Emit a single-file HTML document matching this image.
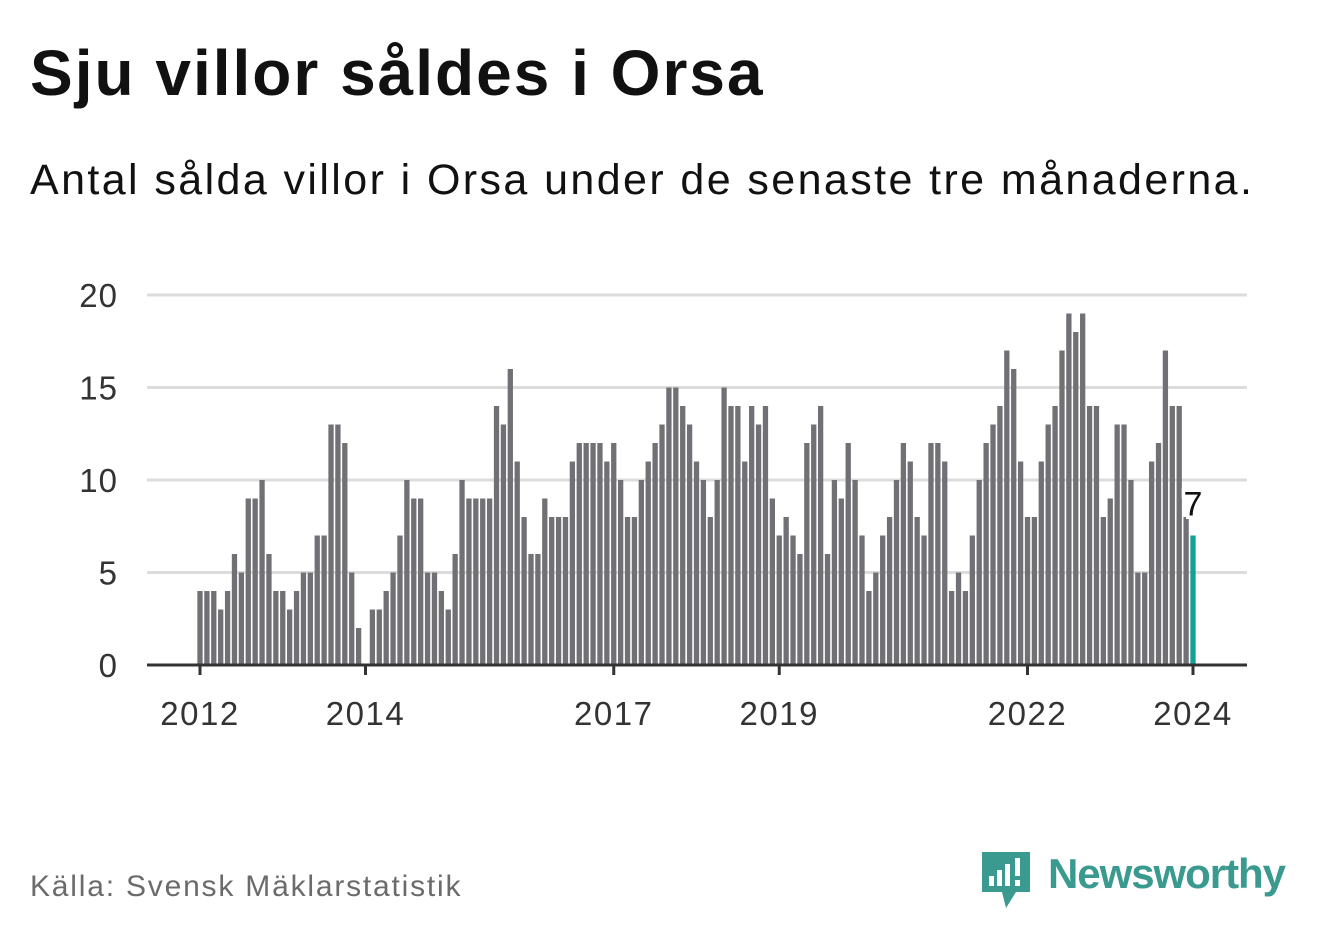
<!DOCTYPE html>
<html><head><meta charset="utf-8"><style>
body{margin:0;width:1322px;height:939px;background:#fff;font-family:"Liberation Sans",sans-serif;overflow:hidden;position:relative}
#title{position:absolute;left:30px;top:36px;font-size:64px;font-weight:bold;color:#111;margin:0;letter-spacing:2px}
#sub{position:absolute;left:30px;top:156px;font-size:43px;color:#111;letter-spacing:2.4px}
#src{position:absolute;left:30px;top:870px;font-size:30px;color:#6b6b6b;letter-spacing:1.8px}
</style></head><body>
<h1 id="title">Sju villor såldes i Orsa</h1>
<div id="sub">Antal sålda villor i Orsa under de senaste tre månaderna.</div>
<svg id="chart" width="1322" height="939" style="position:absolute;left:0;top:0"></svg>
<div id="src">Källa: Svensk Mäklarstatistik</div>
<svg style="position:absolute;left:980px;top:850px" width="320" height="62">
<path d="M2 2h48v40h-14l-10 16-4-16H2z" fill="#3a9a8f"/>
<rect x="9" y="26" width="5" height="10" fill="#fff"/><rect x="17" y="20" width="5" height="16" fill="#fff"/><rect x="25" y="14" width="5" height="22" fill="#fff"/><rect x="35" y="8" width="5" height="18" fill="#fff"/><rect x="35" y="30" width="5" height="6" fill="#fff"/>
<text x="68" y="38" font-size="42" font-weight="bold" fill="#3a9a8f" font-family="Liberation Sans, sans-serif" textLength="238">Newsworthy</text>
</svg>
<script>
const values=[4,4,4,3,4,6,5,9,9,10,6,4,
4,3,4,5,5,7,7,13,13,12,5,2,
0,3,3,4,5,7,10,9,9,5,5,4,
3,6,10,9,9,9,9,14,13,16,11,8,
6,6,9,8,8,8,11,12,12,12,12,11,
12,10,8,8,10,11,12,13,15,15,14,13,
11,10,8,10,15,14,14,11,14,13,14,9,
7,8,7,6,12,13,14,6,10,9,12,10,
7,4,5,7,8,10,12,11,8,7,12,12,
11,4,5,4,7,10,12,13,14,17,16,11,
8,8,11,13,14,17,19,18,19,14,14,8,
9,13,13,10,5,5,11,12,17,14,14,8,
7];
const yTicks=[0,5,10,15,20];
const xYears=[2012,2014,2017,2019,2022,2024];
const NS="http://www.w3.org/2000/svg";
const svg=document.getElementById('chart');
const x0=200,x1=1193,y0=665,yTop=295;
const n=values.length;
const xs=i=>x0+(x1-x0)*i/(n-1);
const ys=v=>y0-(y0-yTop)*v/20;
function mk(t,a){const e=document.createElementNS(NS,t);for(const k in a)e.setAttribute(k,a[k]);svg.appendChild(e);return e;}
yTicks.forEach(t=>{
 if(t>0){const g=mk('line',{x1:147,x2:1247,y1:ys(t),y2:ys(t),stroke:'#dcdcdc','stroke-width':3});
 
 }
 const l=mk('text',{x:118,y:ys(t)+12,'text-anchor':'end','font-size':33,fill:'#333','letter-spacing':1});
 l.textContent=t;
 
 
});
const bw=(x1-x0)/(n-1)-1.6;
values.forEach((v,i)=>{
 if(v<=0)return;
 const r=mk('rect',{x:xs(i)-bw/2,y:ys(v),width:bw,height:y0-ys(v),fill:i==n-1?'#14a096':'#717075'});
 
 
});
const ax=mk('line',{x1:147,x2:1247,y1:y0,y2:y0,stroke:'#333','stroke-width':3});


xYears.forEach(yr=>{
 const i=(yr-2012)*12;
 const tk=mk('line',{x1:xs(i),x2:xs(i),y1:y0,y2:y0+10,stroke:'#333','stroke-width':3});
 
 
 const l=mk('text',{x:xs(i),y:725,'text-anchor':'middle','font-size':33,fill:'#333','letter-spacing':1.5});
 l.textContent=yr;
 
 
});
const last=values[n-1];
const lb=mk('text',{x:xs(n-1),y:ys(last)-20,'text-anchor':'middle','font-size':34,fill:'#111',stroke:'#fff','stroke-width':7,'paint-order':'stroke'});
lb.textContent=last;


</script>
</body></html>
